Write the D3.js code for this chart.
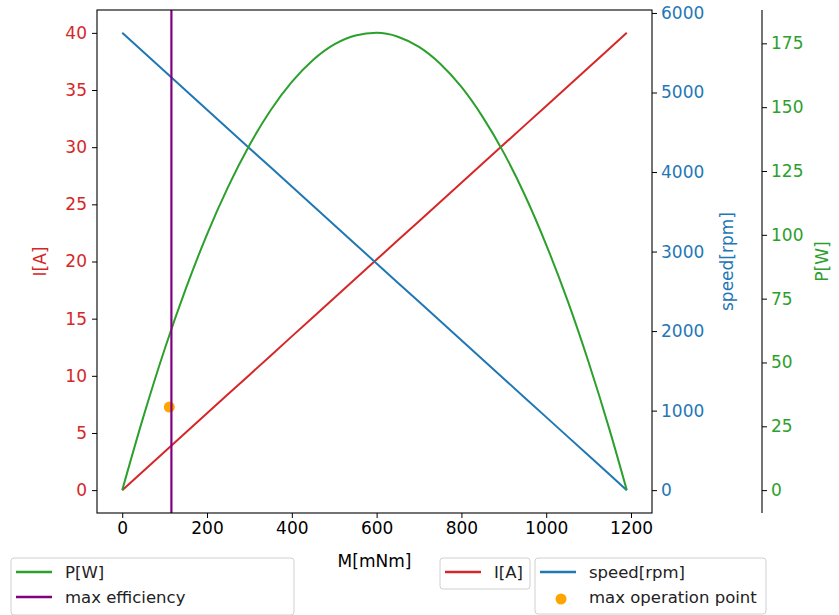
<!DOCTYPE html>
<html>
<head>
<meta charset="utf-8">
<script src="https://cdn.jsdelivr.net/npm/d3@7"></script>
<style>
  html, body { margin: 0; padding: 0; background: #fff; }
  svg { display: block; font-family: "DejaVu Sans", sans-serif; }
</style>
</head>
<body>
<svg id="chart" width="839" height="615"></svg>
<script>
// ---- data ----
const torque = [0, 50, 100, 150, 200, 250, 300, 350, 400, 450, 500, 550, 600, 650, 700, 750, 800, 850, 900, 950, 1000, 1050, 1100, 1150, 1190];
const current = [0, 1.68, 3.36, 5.04, 6.72, 8.40, 10.08, 11.76, 13.45, 15.13, 16.81, 18.49, 20.17, 21.85, 23.53, 25.21, 26.89, 28.57, 30.25, 31.93, 33.61, 35.29, 36.97, 38.66, 40];
const speed = [5750, 5508, 5267, 5025, 4784, 4542, 4300, 4059, 3817, 3576, 3334, 3092, 2851, 2609, 2368, 2126, 1884, 1643, 1401, 1160, 918, 676, 435, 193, 0];
const power = [0, 28.8, 55.2, 78.9, 100.2, 118.9, 135.1, 148.8, 159.9, 168.5, 174.6, 178.1, 179.1, 177.6, 173.6, 167.0, 157.9, 146.2, 132.1, 115.4, 96.1, 74.4, 50.1, 23.3, 0];
const maxEfficiencyTorque = 116;
const maxOperationPoint = { torque: 111, speed: 1045 };

const xTicks = [0, 200, 400, 600, 800, 1000, 1200];
const currentTicks = [0, 5, 10, 15, 20, 25, 30, 35, 40];
const speedTicks = [0, 1000, 2000, 3000, 4000, 5000, 6000];
const powerTicks = [0, 25, 50, 75, 100, 125, 150, 175];

// ---- layout ----
const C = { red: "#d62728", blue: "#1f77b4", green: "#2ca02c", purple: "#800080", orange: "#ffa500" };
const L = 97, R = 652, T = 10, B = 513;
const pAxisX = 762;
const tickFont = 17;

const svg = d3.select("#chart");

const x = d3.scaleLinear().domain([-59.5, 1249.5]).range([L, R]);
const yI = d3.scaleLinear().domain([-2, 42]).range([B, T]);
const yS = d3.scaleLinear().domain([-287.5, 6037.5]).range([B, T]);
const yP = d3.scaleLinear().domain([-8.955, 188.055]).range([B, T]);

function styleAxis(g, color) {
  g.selectAll(".domain").remove();
  g.selectAll(".tick line").attr("stroke", "#000").attr("stroke-width", 1);
  g.selectAll(".tick text").attr("fill", color).attr("font-size", tickFont).attr("font-family", "DejaVu Sans");
}

// clip
svg.append("defs").append("clipPath").attr("id", "clip")
  .append("rect").attr("x", L).attr("y", T).attr("width", R - L).attr("height", B - T);

// axes
const gx = svg.append("g").attr("transform", `translate(0,${B})`)
  .call(d3.axisBottom(x).tickValues(xTicks).tickSize(5).tickPadding(4).tickFormat(d3.format("d")));
styleAxis(gx, "#000");

const gI = svg.append("g").attr("transform", `translate(${L},0)`)
  .call(d3.axisLeft(yI).tickValues(currentTicks).tickSize(5).tickPadding(5).tickFormat(d3.format("d")));
styleAxis(gI, C.red);

const gS = svg.append("g").attr("transform", `translate(${R},0)`)
  .call(d3.axisRight(yS).tickValues(speedTicks).tickSize(5).tickPadding(4).tickFormat(d3.format("d")));
styleAxis(gS, C.blue);

const gP = svg.append("g").attr("transform", `translate(${pAxisX},0)`)
  .call(d3.axisRight(yP).tickValues(powerTicks).tickSize(5).tickPadding(4).tickFormat(d3.format("d")));
styleAxis(gP, C.green);

// P spine
svg.append("line").attr("x1", pAxisX).attr("x2", pAxisX).attr("y1", T).attr("y2", B)
  .attr("stroke", "#000").attr("stroke-width", 1.1);

// plot lines
const plot = svg.append("g").attr("clip-path", "url(#clip)");
const idx = d3.range(torque.length);

plot.append("path").datum(idx)
  .attr("d", d3.line().x(i => x(torque[i])).y(i => yI(current[i])))
  .attr("fill", "none").attr("stroke", C.red).attr("stroke-width", 2);

plot.append("path").datum(idx)
  .attr("d", d3.line().x(i => x(torque[i])).y(i => yS(speed[i])))
  .attr("fill", "none").attr("stroke", C.blue).attr("stroke-width", 2);

plot.append("circle")
  .attr("cx", x(maxOperationPoint.torque)).attr("cy", yS(maxOperationPoint.speed))
  .attr("r", 5.5).attr("fill", C.orange);

plot.append("path").datum(idx)
  .attr("d", d3.line().curve(d3.curveMonotoneX).x(i => x(torque[i])).y(i => yP(power[i])))
  .attr("fill", "none").attr("stroke", C.green).attr("stroke-width", 2);

plot.append("line")
  .attr("x1", x(maxEfficiencyTorque)).attr("x2", x(maxEfficiencyTorque))
  .attr("y1", T).attr("y2", B)
  .attr("stroke", C.purple).attr("stroke-width", 2.2);

// frame spines
svg.append("rect").attr("x", L).attr("y", T).attr("width", R - L).attr("height", B - T)
  .attr("fill", "none").attr("stroke", "#000").attr("stroke-width", 1.1);

// axis labels
svg.append("text").attr("x", (L + R) / 2).attr("y", 567).attr("text-anchor", "middle")
  .attr("font-size", 17).attr("fill", "#000").text("M[mNm]");

svg.append("text").attr("transform", `translate(46,${(T + B) / 2}) rotate(-90)`)
  .attr("text-anchor", "middle").attr("font-size", 17).attr("fill", C.red).text("I[A]");

svg.append("text").attr("transform", `translate(733,${(T + B) / 2}) rotate(-90)`)
  .attr("text-anchor", "middle").attr("font-size", 17).attr("fill", C.blue).text("speed[rpm]");

svg.append("text").attr("transform", `translate(828,${(T + B) / 2}) rotate(-90)`)
  .attr("text-anchor", "middle").attr("font-size", 17).attr("fill", C.green).text("P[W]");

// legends
const legendFont = 16.5;
function legend(box, items) {
  const g = svg.append("g");
  g.append("rect").attr("x", box.x).attr("y", box.y).attr("width", box.w).attr("height", box.h)
    .attr("rx", 3).attr("fill", "#fff").attr("fill-opacity", 0.8)
    .attr("stroke", "#d0d0d0").attr("stroke-width", 1);
  items.forEach((it, i) => {
    const cy = box.y + 14 + i * 25;
    const lx = box.x + 5;
    if (it.type === "line") {
      g.append("line").attr("x1", lx).attr("x2", lx + 36).attr("y1", cy).attr("y2", cy)
        .attr("stroke", it.color).attr("stroke-width", 2.5);
    } else {
      g.append("circle").attr("cx", lx + 21).attr("cy", cy + 2).attr("r", 5.5).attr("fill", it.color);
    }
    g.append("text").attr("x", lx + 49).attr("y", cy + 6).attr("font-size", legendFont)
      .attr("fill", "#222").text(it.label);
  });
}

legend({ x: 11, y: 558, w: 283, h: 57 }, [
  { type: "line", color: C.green, label: "P[W]" },
  { type: "line", color: C.purple, label: "max efficiency" }
]);
legend({ x: 440, y: 558, w: 90, h: 31 }, [
  { type: "line", color: C.red, label: "I[A]" }
]);
legend({ x: 535, y: 558, w: 231, h: 56 }, [
  { type: "line", color: C.blue, label: "speed[rpm]" },
  { type: "dot", color: C.orange, label: "max operation point" }
]);
</script>
</body>
</html>
